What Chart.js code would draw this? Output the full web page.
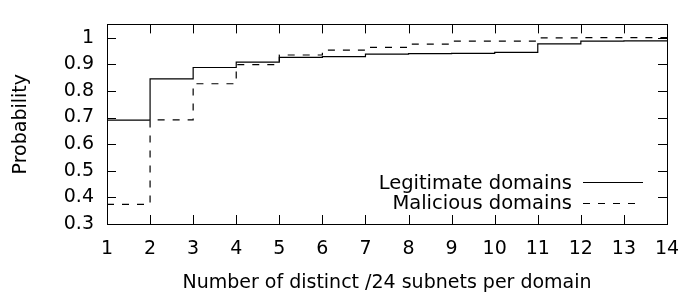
<!DOCTYPE html>
<html>
<head>
<meta charset="utf-8">
<script src="https://cdn.jsdelivr.net/npm/chart.js@4"></script>
<style>
  html, body { margin: 0; padding: 0; background: #fff; }
  canvas { display: block; }
</style>
</head>
<body>
<canvas id="cdf" width="699" height="295"></canvas>
<script>
// subnet counts on the x axis
const X_VALUES = [1, 2, 3, 4, 5, 6, 7, 8, 9, 10, 11, 12, 13, 14];
// cumulative probability
const LEGIT = [0.69, 0.845, 0.888, 0.908, 0.926, 0.929, 0.938, 0.94, 0.941, 0.945, 0.977, 0.987, 0.988, 0.988];
const MALICIOUS = [0.374, 0.691, 0.827, 0.899, 0.935, 0.953, 0.964, 0.976, 0.987, 0.987, 0.999, 1.0, 1.0, 1.0];

const X_TICKS = [1, 2, 3, 4, 5, 6, 7, 8, 9, 10, 11, 12, 13, 14];
const Y_TICKS = [0.3, 0.4, 0.5, 0.6, 0.7, 0.8, 0.9, 1.0];
const Y_LABELS = ["0.3", "0.4", "0.5", "0.6", "0.7", "0.8", "0.9", "1"];

const FONT = "'DejaVu Sans', sans-serif";
const TICK_LEN = 9;

// gnuplot style frame: border box + ticks pointing inward on all sides, and the key
const framePlugin = {
  id: "frame",
  afterDatasetsDraw(chart) {
    const ctx = chart.ctx;
    const { left, right, top, bottom } = chart.chartArea;
    const xs = chart.scales.x;
    const ys = chart.scales.y;
    ctx.save();
    ctx.strokeStyle = "#000";
    ctx.lineWidth = 1;
    ctx.beginPath();
    X_TICKS.forEach((v) => {
      const px = Math.round(xs.getPixelForValue(v)) + 0.5;
      ctx.moveTo(px, bottom);
      ctx.lineTo(px, bottom - TICK_LEN);
      ctx.moveTo(px, top);
      ctx.lineTo(px, top + TICK_LEN);
    });
    Y_TICKS.forEach((v) => {
      const py = Math.round(ys.getPixelForValue(v)) + 0.5;
      ctx.moveTo(left, py);
      ctx.lineTo(left + TICK_LEN, py);
      ctx.moveTo(right, py);
      ctx.lineTo(right - TICK_LEN, py);
    });
    ctx.stroke();
    ctx.strokeRect(Math.round(left) + 0.5, Math.round(top) + 0.5,
      Math.round(right - left), Math.round(bottom - top));

    // key
    ctx.font = "19.5px " + FONT;
    ctx.fillStyle = "#000";
    ctx.textAlign = "right";
    ctx.textBaseline = "alphabetic";
    const rows = [{ y: 189, line: 182.5 }, { y: 209, line: 203.5 }];
    chart.data.datasets.forEach((ds, i) => {
      ctx.fillText(ds.label, 572, rows[i].y);
      ctx.setLineDash(ds.borderDash || []);
      ctx.beginPath();
      ctx.moveTo(583, rows[i].line);
      ctx.lineTo(643, rows[i].line);
      ctx.stroke();
    });
    ctx.restore();
  }
};

new Chart(document.getElementById("cdf"), {
  type: "line",
  data: {
    labels: X_VALUES,
    datasets: [
      {
        label: "Legitimate domains",
        data: X_VALUES.map((x, i) => ({ x: x, y: LEGIT[i] })),
        borderColor: "#000",
        borderWidth: 1.2,
        pointRadius: 0,
        stepped: "before",
        fill: false
      },
      {
        label: "Malicious domains",
        data: X_VALUES.map((x, i) => ({ x: x, y: MALICIOUS[i] })),
        borderColor: "#000",
        borderWidth: 1.2,
        borderDash: [7, 8],
        pointRadius: 0,
        stepped: "before",
        fill: false
      }
    ]
  },
  options: {
    responsive: false,
    animation: false,
    layout: { padding: { top: 7, right: 32, left: 0, bottom: 0 } },
    plugins: { legend: { display: false }, tooltip: { enabled: false } },
    scales: {
      x: {
        type: "linear",
        min: 1,
        max: 14,
        grid: { display: false, drawTicks: false },
        border: { display: false },
        afterBuildTicks: (s) => { s.ticks = X_TICKS.map((v) => ({ value: v })); },
        afterFit: (s) => { s.height = 71; },
        ticks: {
          padding: 14,
          color: "#000",
          font: { family: FONT, size: 19 },
          maxRotation: 0,
          autoSkip: false
        },
        title: {
          display: true,
          text: "Number of distinct /24 subnets per domain",
          color: "#000",
          font: { family: FONT, size: 19 },
          padding: { top: 0, bottom: 1 }
        }
      },
      y: {
        type: "linear",
        min: 0.3,
        max: 1.05,
        grid: { display: false, drawTicks: false },
        border: { display: false },
        afterBuildTicks: (s) => { s.ticks = Y_TICKS.map((v) => ({ value: v })); },
        afterFit: (s) => { s.width = 107; },
        ticks: {
          padding: 13,
          color: "#000",
          font: { family: FONT, size: 19 },
          callback: (v) => Y_LABELS[Y_TICKS.findIndex((t) => Math.abs(t - v) < 1e-9)]
        },
        title: {
          display: true,
          text: "Probability",
          color: "#000",
          font: { family: FONT, size: 19 },
          padding: { top: 10, bottom: 0 }
        }
      }
    }
  },
  plugins: [framePlugin]
});
</script>
</body>
</html>
